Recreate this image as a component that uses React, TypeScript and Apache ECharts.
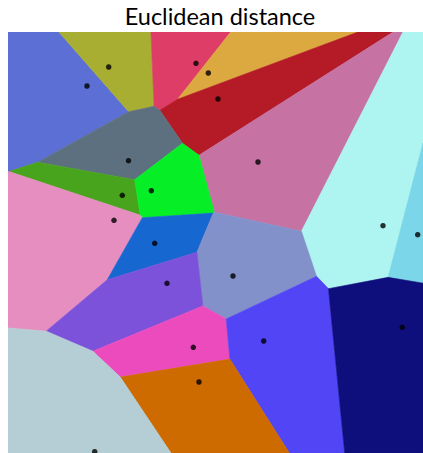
import React, { useEffect, useRef } from "react";
import * as echarts from "echarts";

// Sites (generators) of the Voronoi diagram, in plot units (x right, y down)
const siteX = [79, 100.7, 188, 200.3, 210, 120.5, 250, 375, 409.7, 114.3, 143.3, 106, 146.7, 225, 159, 185.3, 255.7, 394.3, 191, 86.7];
const siteY = [54, 35, 31.3, 41, 67, 128.7, 130, 193.7, 202.7, 163.3, 158.7, 188.3, 211.3, 244, 251.3, 315.3, 309, 295.3, 350, 419.7];
const cellColors = [
  "#5B6FD5", "#A8AE32", "#DE3D67", "#DCA840", "#B41B26", "#5C7080", "#C673A4", "#AEF5F1", "#7AD6E8", "#48A41C",
  "#05EE26", "#E68EC0", "#1767D0", "#8291CA", "#7B52D9", "#EC4BBE", "#5245F5", "#0E0E7C", "#CD6A00", "#B5CDD5",
];
const xRange = [0, 415];
const yRange = [0, 421];
const titleText = "Euclidean distance";

type Pt = [number, number];

function clip(poly: Pt[], a: number, b: number, c: number): Pt[] {
  const out: Pt[] = [];
  for (let i = 0; i < poly.length; i++) {
    const P = poly[i];
    const Q = poly[(i + 1) % poly.length];
    const dp = a * P[0] + b * P[1] - c;
    const dq = a * Q[0] + b * Q[1] - c;
    if (dp <= 0) out.push(P);
    if ((dp < 0 && dq > 0) || (dp > 0 && dq < 0)) {
      const t = dp / (dp - dq);
      out.push([P[0] + t * (Q[0] - P[0]), P[1] + t * (Q[1] - P[1])]);
    }
  }
  return out;
}

function voronoiCells(): Pt[][] {
  const n = siteX.length;
  const cells: Pt[][] = [];
  for (let i = 0; i < n; i++) {
    let poly: Pt[] = [
      [xRange[0], yRange[0]],
      [xRange[1], yRange[0]],
      [xRange[1], yRange[1]],
      [xRange[0], yRange[1]],
    ];
    for (let j = 0; j < n; j++) {
      if (i === j) continue;
      const a = 2 * (siteX[j] - siteX[i]);
      const b = 2 * (siteY[j] - siteY[i]);
      const c = siteX[j] ** 2 + siteY[j] ** 2 - siteX[i] ** 2 - siteY[i] ** 2;
      poly = clip(poly, a, b, c);
      if (poly.length === 0) break;
    }
    cells.push(poly);
  }
  return cells;
}

export default function App() {
  const ref = useRef<HTMLDivElement>(null);
  useEffect(() => {
    document.body.style.margin = "0";
    if (!ref.current) return;
    const chart = echarts.init(ref.current, null, { renderer: "svg" });
    const cells = voronoiCells();
    const sites = siteX.map((x, i) => [x, siteY[i]]);
    chart.setOption({
      animation: false,
      backgroundColor: "#ffffff",
      grid: { left: 8, top: 32, right: 0, bottom: 0 },
      xAxis: { type: "value", min: xRange[0], max: xRange[1], show: false },
      yAxis: { type: "value", min: yRange[0], max: yRange[1], inverse: true, show: false },
      graphic: [
        {
          type: "text",
          x: 220,
          y: 16,
          style: {
            text: titleText,
            fill: "#000000",
            font: "23.5px Lato, 'Open Sans', sans-serif",
            textAlign: "center",
            textVerticalAlign: "middle",
          },
        },
      ],
      series: [
        {
          type: "custom",
          clip: true,
          data: sites,
          encode: { x: 0, y: 1 },
          renderItem: (params: any, api: any) => {
            const poly = cells[params.dataIndex];
            const points = poly.map((p) => api.coord(p));
            const color = cellColors[params.dataIndex];
            return {
              type: "polygon",
              shape: { points },
              style: { fill: color, stroke: color, lineWidth: 0.6 },
            };
          },
        },
        {
          type: "scatter",
          data: sites,
          symbolSize: 5.5,
          itemStyle: { color: "#000000" },
          z: 10,
        },
      ],
    });
    return () => chart.dispose();
  }, []);
  return <div ref={ref} style={{ width: 423, height: 453 }} />;
}
